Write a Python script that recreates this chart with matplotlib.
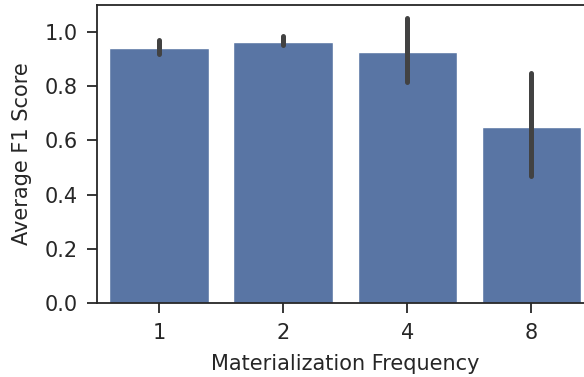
import matplotlib
matplotlib.use("Agg")
import matplotlib.pyplot as plt
import numpy as np

# 数据
freqs = ["1", "2", "4", "8"]
mean_f1 = [0.940, 0.963, 0.925, 0.651]
ci_low = [0.920, 0.951, 0.815, 0.469]
ci_high = [0.972, 0.987, 1.051, 0.847]

text_color = "#262626"
plt.rcParams["font.family"] = ["DejaVu Sans"]
plt.rcParams["text.color"] = text_color
plt.rcParams["axes.labelcolor"] = text_color
plt.rcParams["xtick.color"] = text_color
plt.rcParams["ytick.color"] = text_color

fig = plt.figure(figsize=(5.84, 3.77), dpi=100)
ax = fig.add_axes([0.166, 0.196, 0.85, 0.791])

x = np.arange(len(freqs))
ax.bar(x, mean_f1, width=0.8, color="#5975a4", edgecolor="white", linewidth=1)
ax.vlines(x, ci_low, ci_high, color="#424242", linewidth=3.6, capstyle="round", zorder=3)

ax.set_xlim(-0.5, 3.5)
ax.set_ylim(0, 1.1)
ax.set_xticks(x)
ax.set_xticklabels(freqs)
ax.set_yticks([0.0, 0.2, 0.4, 0.6, 0.8, 1.0])
ax.set_xlabel("Materialization Frequency", fontsize=15, labelpad=8)
ax.set_ylabel("Average F1 Score", fontsize=15, labelpad=9)
ax.tick_params(labelsize=15, length=7, width=1.3, pad=7)
for s in ax.spines.values():
    s.set_linewidth(1.3)
    s.set_color(text_color)

fig.savefig("out.png", dpi=100)
